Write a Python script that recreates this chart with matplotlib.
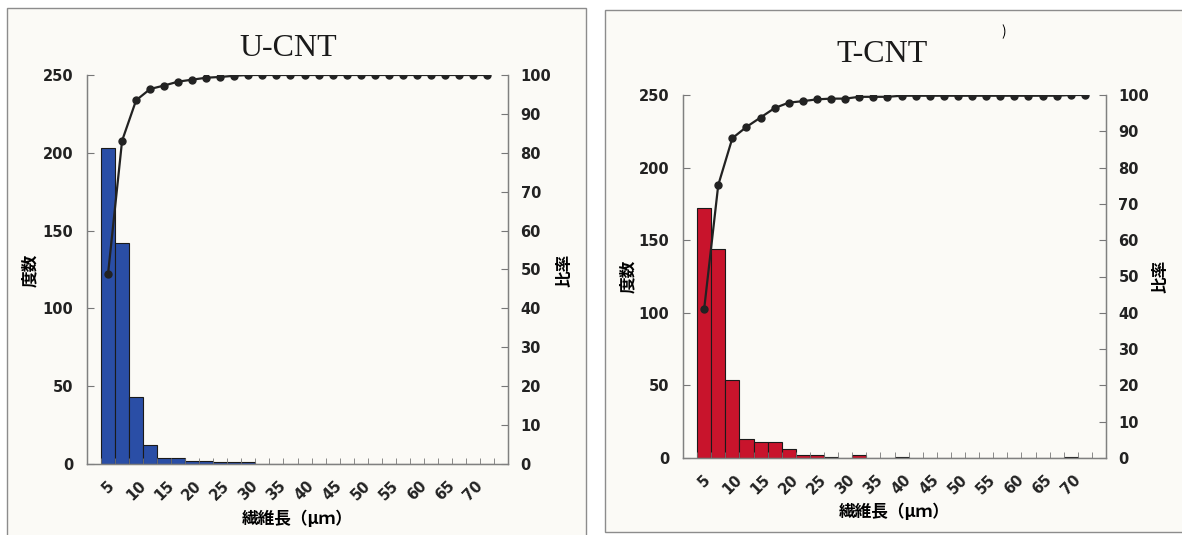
import numpy as np
import matplotlib
matplotlib.use("Agg")
import matplotlib.pyplot as plt
from matplotlib.patches import Rectangle

plt.rcParams['font.family'] = ['Noto Sans CJK JP', 'DejaVu Sans']

# 28 length classes, 2.5 um steps (5 ... 72.5)
classes = [5 + 2.5 * i for i in range(28)]
tick_labels = ['5', '10', '15', '20', '25', '30', '35', '40', '45', '50',
               '55', '60', '65', '70']

u_counts = [203, 142, 43, 12, 4, 4, 2, 2, 1, 1, 1, 0, 0, 0,
            0, 0, 0, 0, 0, 0, 0, 0, 0, 0, 0, 0, 0, 0]
u_ratio = [48.9, 83.1, 93.5, 96.4, 97.3, 98.3, 98.8, 99.3, 99.5, 99.8,
           100, 100, 100, 100, 100, 100, 100, 100, 100, 100,
           100, 100, 100, 100, 100, 100, 100, 100]

t_counts = [172, 144, 54, 13, 11, 11, 6, 2, 2, 1, 0, 2, 0, 0,
            1, 0, 0, 0, 0, 0, 0, 0, 0, 0, 0, 0, 1, 0]
t_ratio = [41.0, 75.2, 88.1, 91.2, 93.8, 96.4, 97.9, 98.3, 98.8, 99.0,
           99.0, 99.5, 99.5, 99.5, 99.8, 99.8, 99.8, 99.8, 99.8, 99.8,
           99.8, 99.8, 99.8, 99.8, 99.8, 99.8, 100, 100]

W, H = 1182, 535
fig = plt.figure(figsize=(W / 100, H / 100), dpi=100, facecolor='white')

# scanned panel frames
for (x0, y0, x1, y1) in [(7, 8, 586, 540), (605, 10, 1185, 532)]:
    fig.patches.append(Rectangle((x0 / W, 1 - y1 / H), (x1 - x0) / W, (y1 - y0) / H,
                                 transform=fig.transFigure, facecolor='#fbfaf6',
                                 edgecolor='#8c8c8c', linewidth=1.0, zorder=-10))

num_font = dict(family='DejaVu Sans', fontweight='bold', fontsize=10.5, color='#222')


def draw_panel(rect, counts, ratio, color, title, title_xy, ylab_x, yr_x, ylab_y, xlab_y):
    ax = fig.add_axes(rect)
    ax.patch.set_alpha(0)
    pos = np.arange(len(classes)) + 1.5
    ax.bar(pos, counts, width=1.0, color=color, edgecolor='#1a1a1a', linewidth=0.8)
    ax.set_xlim(0, 30)
    ax.set_ylim(0, 250)
    ax.set_yticks(range(0, 251, 50))
    ax.set_yticklabels([str(v) for v in range(0, 251, 50)], **num_font)
    ax.set_xticks(np.arange(0, 31), minor=True)
    ax.set_xticks(pos[::2])
    ax.set_xticklabels(tick_labels, rotation=45, ha='center', **num_font)
    ax.tick_params(axis='x', which='major', length=0, pad=10)
    ax.tick_params(axis='x', which='minor', direction='in', length=4, color='#777')
    ax.tick_params(axis='y', direction='in', length=5, color='#777', pad=10)
    ax.spines['top'].set_visible(False)
    for s in ['left', 'bottom', 'right']:
        ax.spines[s].set_color('#808080')
        ax.spines[s].set_linewidth(1.0)

    ax2 = ax.twinx()
    ax2.plot(pos, ratio, color='#222222', linewidth=1.6, marker='o',
             markersize=5, zorder=5)
    ax2.set_ylim(0, 100)
    ax2.set_yticks(range(0, 101, 10))
    ax2.set_yticklabels([str(v) for v in range(0, 101, 10)], **num_font)
    ax2.tick_params(axis='y', direction='in', length=5, color='#777', pad=9)
    ax2.spines['top'].set_visible(False)
    for s in ['left', 'bottom', 'right']:
        ax2.spines[s].set_color('#808080')

    fig.text(title_xy[0] / W, 1 - title_xy[1] / H, title, family='Liberation Serif',
             fontsize=23, ha='center', va='center', color='#1a1a1a')
    fig.text(ylab_x / W, 1 - ylab_y / H, '度数', rotation=90, fontsize=12,
             fontweight='bold', ha='center', va='center')
    fig.text(yr_x / W, 1 - ylab_y / H, '比率', rotation=90, fontsize=12,
             fontweight='bold', ha='center', va='center')
    xc = (rect[0] + rect[2] / 2)
    fig.text(xc, 1 - xlab_y / H, '繊維長（μｍ）', fontsize=12, fontweight='bold',
             ha='center', va='center')
    return ax


draw_panel([87 / W, 1 - 464 / H, 421 / W, 389 / H], u_counts, u_ratio, '#2a4ea6',
           'U-CNT', (288, 48), 30, 564, 270, 519)
draw_panel([683 / W, 1 - 458 / H, 423 / W, 363 / H], t_counts, t_ratio, '#c8142c',
           'T-CNT', (882, 54), 628, 1160, 276, 512)

fig.text(1004 / W, 1 - 32 / H, ')', fontsize=10, ha='center', va='center')

fig.savefig('out.png', dpi=100)
